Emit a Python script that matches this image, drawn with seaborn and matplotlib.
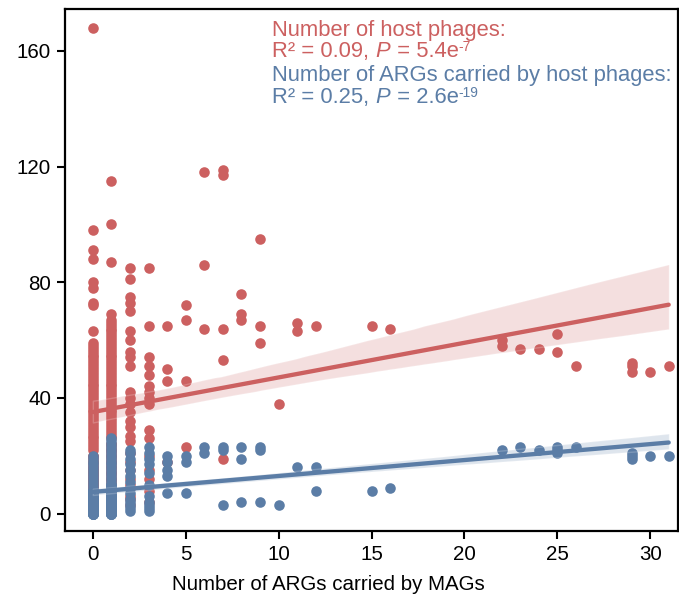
import numpy as np
import pandas as pd
import matplotlib
matplotlib.use("Agg")
import matplotlib.pyplot as plt
import seaborn as sns
from matplotlib.collections import PolyCollection

# ---------------- data ----------------
# Number of host phages (red), grouped by number of ARGs carried by MAGs
phage_x0 = [168, 98, 91, 88, 80, 78, 73, 72, 63,
            22, 23, 24, 25, 26, 27, 28, 29, 30, 31, 32, 33, 34, 35, 36, 37, 38, 39, 40,
            41, 42, 43, 44, 45, 46, 47, 48, 49, 50, 51, 52, 53, 54, 55, 56, 57, 58, 59,
            1, 2, 3, 4, 5, 6, 7, 8, 9, 10, 11, 12, 13, 14, 15, 16, 17, 18, 19, 20,
            2, 4, 6, 8, 10, 12, 14, 16, 18, 20, 3, 5, 7, 9, 11, 13, 15]
phage_x1 = [115, 100, 87, 69,
            26, 27, 28, 29, 30, 31, 32, 33, 34, 35, 36, 37, 38, 39, 40, 41, 42, 43, 44, 45,
            46, 47, 48, 49, 50, 51, 52, 53, 54, 55, 56, 57, 58, 59, 60, 61, 62, 63, 64, 65,
            66, 67, 2, 4, 6, 8, 10, 12, 14, 16, 18, 20, 22, 24,
            1, 2, 3, 4, 5, 6, 7, 8, 9, 10, 11, 12, 13, 14, 15, 16, 17, 18, 19, 20, 21, 22,
            23, 24]
phage_x2 = [85, 81, 75, 73, 70, 63, 60, 56, 54, 51, 42, 40, 38, 35, 32, 30, 27, 25, 10, 5,
            3, 6, 9, 12, 15, 18, 21]
phage_x3 = [85, 65, 54, 51, 48, 44, 42, 40, 38, 29, 26, 15, 4, 8, 12, 20]
phage_sparse_x = [4, 4, 4, 4, 5, 5, 5, 5, 6, 6, 6, 7, 7, 7, 7, 7, 8, 8, 8, 9, 9, 9, 10,
                  11, 11, 12, 15, 16, 22, 22, 23, 24, 25, 25, 26, 29, 29, 29, 30, 31]
phage_sparse_y = [65, 50, 46, 18, 72, 67, 46, 23, 118, 86, 64, 119, 117, 64, 53, 19, 76, 69, 67,
                  95, 65, 59, 38, 66, 63, 65, 65, 64, 60, 58, 57, 57, 62, 56, 51, 52, 51, 49, 49, 51]

# Number of ARGs carried by host phages (blue)
arg_x0 = [0, 1, 2, 3, 4, 5, 6, 7, 8, 9, 10, 11, 12, 13, 14, 15, 16, 17, 18, 19, 20,
          0, 1, 2, 3, 4, 5, 6, 7, 8, 0, 1, 2, 3, 4, 5, 6, 7, 8, 0, 1, 2, 3, 4, 5, 6, 7, 8,
          0, 1, 2, 3, 4, 5, 0, 1, 2, 3, 4, 5]
arg_x1 = [0, 1, 2, 3, 4, 5, 6, 7, 8, 9, 10, 11, 12, 13, 14, 15, 16, 17, 18, 19, 20,
          21, 22, 23, 24, 25, 26,
          0, 1, 2, 3, 4, 5, 6, 7, 8, 9, 10, 0, 1, 2, 3, 4, 5, 6, 7, 8, 9, 10,
          0, 1, 2, 3, 4, 5, 6, 0, 1, 2, 3, 4, 5, 6]
arg_x2 = [22, 21, 19, 17, 15, 13, 11, 9, 7, 4, 1, 2, 3, 5]
arg_x3 = [23, 21, 19, 17, 14, 10, 6, 3, 1, 2, 4]
arg_sparse_x = [4, 4, 4, 4, 4, 5, 5, 5, 6, 6, 7, 7, 7, 8, 8, 8, 9, 9, 9, 10, 11, 12, 12,
                15, 16, 22, 23, 24, 25, 25, 25, 26, 29, 29, 29, 30, 31]
arg_sparse_y = [20, 18, 15, 13, 7, 20, 18, 7, 23, 21, 23, 22, 3, 23, 19, 4, 23, 22, 4, 3, 16,
                16, 8, 8, 9, 22, 23, 22, 23, 22, 21, 23, 21, 20, 19, 20, 20]

x_ticks = [0, 5, 10, 15, 20, 25, 30]
y_ticks = [0, 40, 80, 120, 160]
x_label = "Number of ARGs carried by MAGs"

# ---------------- assemble ----------------
def build(cols, sx, sy):
    xs, ys = [], []
    for xv, vals in cols:
        xs += [xv] * len(vals)
        ys += list(vals)
    xs += list(sx)
    ys += list(sy)
    return pd.DataFrame({"x": xs, "y": ys})

phage = build([(0, phage_x0), (1, phage_x1), (2, phage_x2), (3, phage_x3)],
              phage_sparse_x, phage_sparse_y)
args_ = build([(0, arg_x0), (1, arg_x1), (2, arg_x2), (3, arg_x3)],
              arg_sparse_x, arg_sparse_y)

RED = "#CC6060"
BLUE = "#5B7DA6"

sns.set_style("ticks")
plt.rcParams["font.family"] = ["Liberation Sans", "DejaVu Sans"]
for k in ["text.color", "axes.labelcolor", "xtick.color", "ytick.color", "axes.edgecolor"]:
    plt.rcParams[k] = "black"

fig = plt.figure(figsize=(6.79, 6.09), dpi=100)
ax = fig.add_axes([65 / 679, 1 - 531 / 609, (678 - 65) / 679, (531 - 9) / 609])

sns.regplot(data=phage, x="x", y="y", ax=ax, color=RED,
            scatter_kws=dict(s=58, alpha=1, linewidths=0, zorder=2),
            line_kws=dict(lw=3.1, zorder=4))
sns.regplot(data=args_, x="x", y="y", ax=ax, color=BLUE,
            scatter_kws=dict(s=58, alpha=1, linewidths=0, zorder=3),
            line_kws=dict(lw=3.1, zorder=5))

for coll in ax.collections:
    if isinstance(coll, PolyCollection):
        coll.set_alpha(0.2)
        coll.set_zorder(3.5)

ax.set_xlim(-1.5, 31.5)
ax.set_ylim(-6, 174.5)
ax.set_xticks(x_ticks)
ax.set_yticks(y_ticks)
ax.set_xlabel(x_label, fontsize=14.8, labelpad=8)
ax.xaxis.set_label_coords((328 - 65) / 613, -0.085)
ax.set_ylabel("")
ax.tick_params(axis="both", labelsize=14.8, length=6, width=1.5, direction="out", pad=4)
for sp in ax.spines.values():
    sp.set_linewidth(1.6)
    sp.set_visible(True)

# ---------------- annotation text, drawn piece by piece ----------------
fs = 15.8
sup_fs = 10
renderer = fig.canvas.get_renderer()
W, H = fig.bbox.width, fig.bbox.height


def write_line(x_px, base_px, pieces, color):
    x = x_px
    for txt, kind in pieces:
        if kind == "sup":
            t = fig.text(x / W, 1 - (base_px - 6.5) / H, txt, color=color,
                         fontsize=sup_fs, va="baseline")
        elif kind == "it":
            t = fig.text(x / W, 1 - base_px / H, txt, color=color,
                         fontsize=fs, va="baseline", fontstyle="italic")
        else:
            t = fig.text(x / W, 1 - base_px / H, txt, color=color,
                         fontsize=fs, va="baseline")
        bb = t.get_window_extent(renderer)
        x = bb.x1 + (1.0 if kind == "it" else 0.0)


write_line(272, 35.7, [("Number of host phages:", "n")], RED)
write_line(272, 57.3, [("R\u00b2 = 0.09, ", "n"), ("P", "it"), (" = 5.4e", "n"), ("-7", "sup")], RED)
write_line(272, 81.0, [("Number of ARGs carried by host phages:", "n")], BLUE)
write_line(272, 103.3, [("R\u00b2 = 0.25, ", "n"), ("P", "it"), (" = 2.6e", "n"), ("-19", "sup")], BLUE)

fig.savefig("out.png", dpi=100)
